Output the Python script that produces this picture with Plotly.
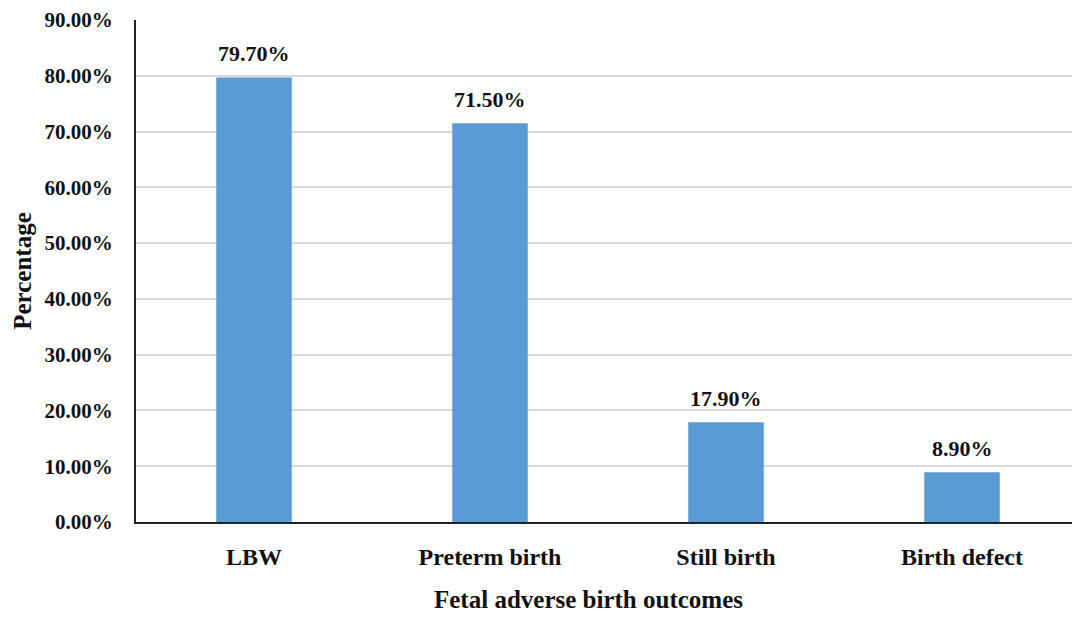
import plotly.graph_objects as go

categories = ["LBW", "Preterm birth", "Still birth", "Birth defect"]
values = [79.7, 71.5, 17.9, 8.9]
tick_vals = [0, 10, 20, 30, 40, 50, 60, 70, 80, 90]
tick_text = [f"{v:.2f}%" for v in tick_vals]

font_family = "Liberation Serif, Times New Roman, serif"

fig = go.Figure(go.Bar(
    x=categories,
    y=values,
    marker=dict(color="#5b9bd5", line=dict(width=0)),
    hovertemplate="%{x}: %{y:.2f}%<extra></extra>",
))

annotations = [dict(
    x=c, y=v, xref="x", yref="y",
    text=f"<b>{v:.2f}%</b>",
    showarrow=False, yanchor="bottom", xanchor="center", yshift=9,
    font=dict(family=font_family, size=22, color="#111"),
) for c, v in zip(categories, values)]

annotations.append(dict(
    text="<b>Fetal adverse birth outcomes</b>",
    xref="paper", yref="paper", x=0.479, y=0, yshift=-77,
    xanchor="center", yanchor="middle", showarrow=False,
    font=dict(family=font_family, size=25, color="#111"),
))

fig.update_layout(
    width=1072, height=609,
    margin=dict(l=128, r=0, t=12, b=95),
    paper_bgcolor="white", plot_bgcolor="white",
    bargap=0.68,
    showlegend=False,
    font=dict(family=font_family, color="#111"),
    annotations=annotations,
)
fig.update_xaxes(
    showline=True, linecolor="#222", linewidth=2,
    ticks="outside", ticklen=12, tickcolor="rgba(0,0,0,0)",
    tickfont=dict(family=font_family, size=24, color="#111"),
    tickprefix="<b>", ticksuffix="</b>",
)
fig.update_yaxes(
    range=[0, 90], tickvals=tick_vals, ticktext=[f"<b>{t}</b>" for t in tick_text],
    showline=True, linecolor="#222", linewidth=2,
    gridcolor="#d9d9d9", gridwidth=1.5,
    ticks="outside", ticklen=17, tickcolor="rgba(0,0,0,0)",
    tickfont=dict(family=font_family, size=21, color="#111"),
    title=dict(text="<b>Percentage</b>", font=dict(family=font_family, size=25, color="#111"), standoff=6),
    zeroline=False,
)

fig.write_html("out.html")
